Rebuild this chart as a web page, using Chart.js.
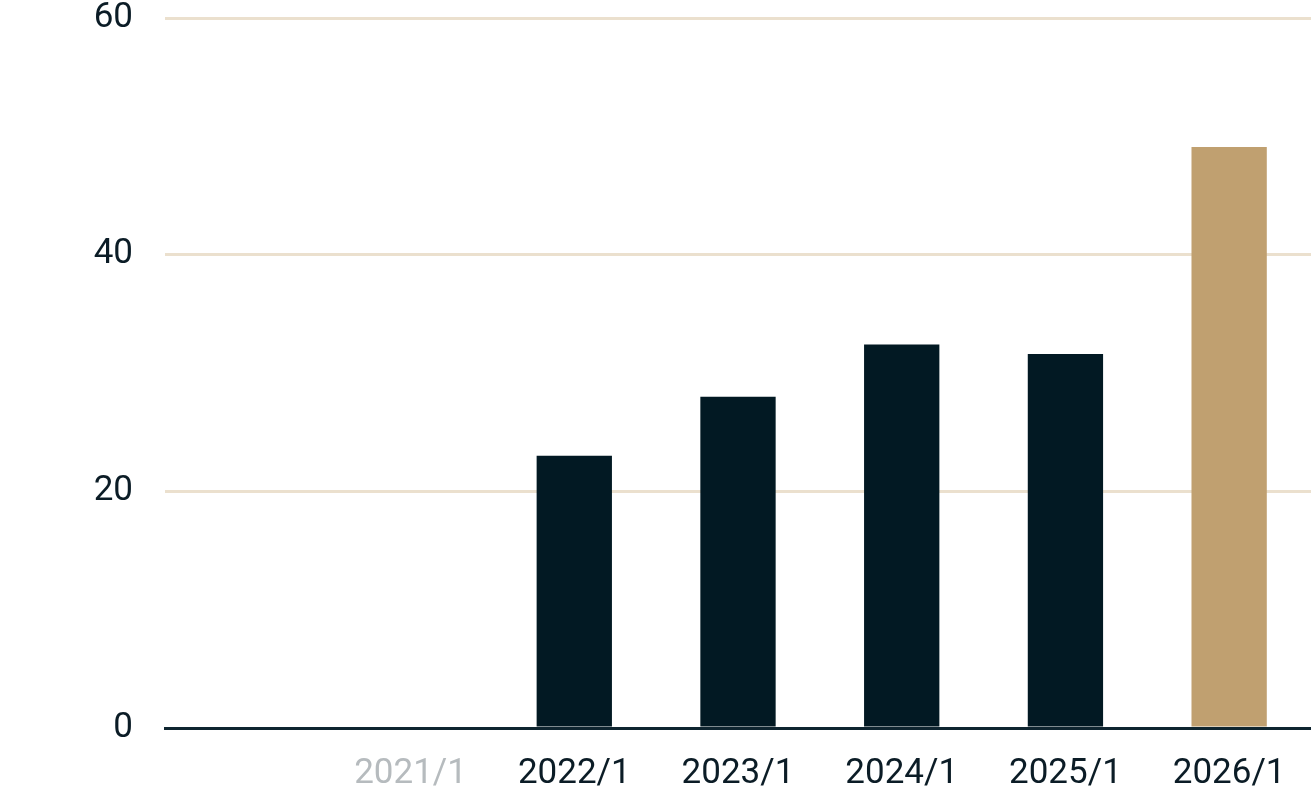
<!DOCTYPE html>
<html>
<head>
<meta charset="utf-8">
<script src="https://cdn.jsdelivr.net/npm/chart.js@4/dist/chart.umd.min.js"></script>
<style>
  html, body { margin: 0; padding: 0; background: #fff; }
  #wrap { width: 1311px; height: 801px; }
</style>
</head>
<body>
<div id="wrap"><canvas id="chart"></canvas></div>
<script>
const categories = ['', '2021/1', '2022/1', '2023/1', '2024/1', '2025/1', '2026/1']
const values = [null, null, 23, 28, 32.4, 31.6, 49.1]
const yTicks = [0, 20, 40, 60]

const darkBar = '#021923', goldBar = '#c0a070'
const barColors = categories.map((c, i) => i === categories.length - 1 ? goldBar : darkBar)
const labelColor = (ctx) => categories[ctx.index] === '2021/1' ? '#b6bbbe' : '#0b1c26'

const ctx = document.getElementById('chart').getContext('2d')
new Chart(ctx, {
    type: 'bar',
    data: {
        labels: categories,
        datasets: [{
            data: values,
            backgroundColor: barColors,
            borderWidth: 0,
            barPercentage: 0.46,
            categoryPercentage: 1
        }]
    },
    options: {
        responsive: true,
        maintainAspectRatio: false,
        animation: false,
        layout: { padding: 0 },
        plugins: { legend: { display: false }, tooltip: { enabled: false } },
        scales: {
            x: {
                // fixed axis height so the baseline sits at y=728
                afterFit: s => { s.height = 73; s.paddingLeft = 0; s.paddingRight = 0 },
                grid: { display: false, drawTicks: false },
                border: { display: true, color: '#0f2530', width: 3, z: 1 },
                ticks: {
                    color: labelColor,
                    padding: 29,
                    maxRotation: 0,
                    autoSkip: false,
                    font: { family: 'Roboto', size: 35, lineHeight: 1 }
                }
            },
            y: {
                min: 0,
                max: 60,
                afterBuildTicks: s => { s.ticks = yTicks.map(v => ({value: v})) },
                afterFit: s => { s.width = 165; s.paddingTop = 18; s.paddingBottom = 0 },
                grid: { color: '#ebe0ce', lineWidth: 3, drawTicks: false },
                border: { display: false },
                ticks: {
                    color: '#0b1c26',
                    padding: 32,
                    font: { family: 'Roboto', size: 35, lineHeight: 1 }
                }
            }
        }
    }
})
</script>
</body>
</html>
